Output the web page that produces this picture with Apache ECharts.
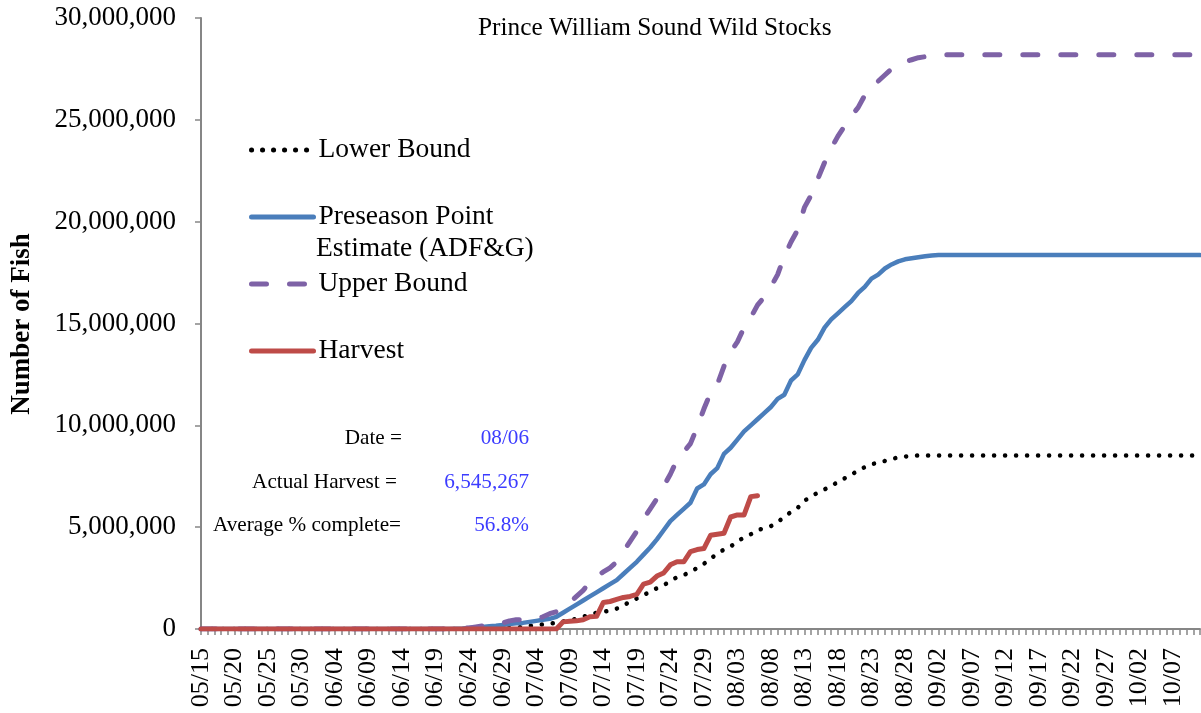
<!DOCTYPE html>
<html>
<head>
<meta charset="utf-8">
<title>Prince William Sound Wild Stocks</title>
<script src="https://cdn.jsdelivr.net/npm/echarts@6/dist/echarts.min.js"></script>
<style>
  html, body { margin: 0; padding: 0; background: #fff; }
  #main { width: 1201px; height: 713px; }
</style>
</head>
<body>
<div id="main"></div>
<script>
// daily x categories, 05/15 .. 10/11
const firstDay = [5, 15];
const dayCount = 150;
const dates = [];
for (let i = 0; i < dayCount; i++) {
    const d = new Date(2021, firstDay[0] - 1, firstDay[1] + i);
    dates.push(String(d.getMonth() + 1).padStart(2, '0') + '/' + String(d.getDate()).padStart(2, '0'));
}

const yTicks = [0, 5000000, 10000000, 15000000, 20000000, 25000000, 30000000];

const lowerBound = [
    0, 0, 0, 0, 0, 0, 0, 0, 0, 0,
    0, 0, 0, 0, 0, 0, 0, 0, 0, 0,
    0, 0, 0, 0, 0, 0, 0, 0, 0, 0,
    0, 0, 0, 0, 0, 0, 0, 0, 0, 0,
    0, 0, 0, 0, 20000, 30000, 50000, 70000, 100000, 150000,
    200000, 220000, 260000, 300000, 370000, 430000, 500000, 600000, 700000, 800000,
    850000, 900000, 1000000, 1150000, 1350000, 1500000, 1650000, 1850000, 2000000, 2150000,
    2350000, 2550000, 2650000, 2800000, 3000000, 3200000, 3450000, 3700000, 3900000, 4050000,
    4300000, 4500000, 4650000, 4850000, 4950000, 5050000, 5250000, 5500000, 5750000, 5950000,
    6300000, 6500000, 6700000, 6850000, 7050000, 7200000, 7400000, 7600000, 7750000, 7950000,
    8100000, 8150000, 8250000, 8350000, 8420000, 8470000, 8500000, 8520000, 8520000, 8520000,
    8520000, 8520000, 8520000, 8520000, 8520000, 8520000, 8520000, 8520000, 8520000, 8520000,
    8520000, 8520000, 8520000, 8520000, 8520000, 8520000, 8520000, 8520000, 8520000, 8520000,
    8520000, 8520000, 8520000, 8520000, 8520000, 8520000, 8520000, 8520000, 8520000, 8520000,
    8520000, 8520000, 8520000, 8520000, 8520000, 8520000, 8520000, 8520000, 8520000, 8520000
];

const preseason = [
    0, 0, 0, 0, 0, 0, 0, 0, 0, 0,
    0, 0, 0, 0, 0, 0, 0, 0, 0, 0,
    0, 0, 0, 0, 0, 0, 0, 0, 0, 0,
    0, 0, 0, 0, 0, 0, 0, 0, 10000, 20000,
    50000, 80000, 100000, 130000, 160000, 200000, 240000, 280000, 300000, 350000,
    400000, 450000, 500000, 600000, 800000, 1000000, 1200000, 1400000, 1600000, 1800000,
    2000000, 2200000, 2400000, 2700000, 3000000, 3300000, 3650000, 4000000, 4400000, 4850000,
    5300000, 5600000, 5900000, 6200000, 6900000, 7100000, 7600000, 7900000, 8600000, 8900000,
    9300000, 9700000, 10000000, 10300000, 10600000, 10900000, 11300000, 11500000, 12200000, 12500000,
    13200000, 13800000, 14200000, 14800000, 15200000, 15500000, 15800000, 16100000, 16500000, 16800000,
    17200000, 17400000, 17700000, 17900000, 18050000, 18150000, 18200000, 18250000, 18300000, 18340000,
    18360000, 18360000, 18360000, 18360000, 18360000, 18360000, 18360000, 18360000, 18360000, 18360000,
    18360000, 18360000, 18360000, 18360000, 18360000, 18360000, 18360000, 18360000, 18360000, 18360000,
    18360000, 18360000, 18360000, 18360000, 18360000, 18360000, 18360000, 18360000, 18360000, 18360000,
    18360000, 18360000, 18360000, 18360000, 18360000, 18360000, 18360000, 18360000, 18360000, 18360000
];

const upperBound = [
    0, 0, 0, 0, 0, 0, 0, 0, 0, 0,
    0, 0, 0, 0, 0, 0, 0, 0, 0, 0,
    0, 0, 0, 0, 0, 0, 0, 0, 0, 0,
    0, 0, 0, 0, 0, 0, 0, 0, 10000, 30000,
    50000, 100000, 150000, 200000, 250000, 300000, 400000, 450000, 450000, 450000,
    500000, 600000, 750000, 850000, 1000000, 1300000, 1600000, 1900000, 2300000, 2600000,
    2800000, 3000000, 3300000, 3800000, 4300000, 4800000, 5400000, 5900000, 6400000, 7000000,
    7600000, 8300000, 8700000, 9100000, 9900000, 10800000, 11600000, 12000000, 12900000, 13600000,
    14100000, 14800000, 15300000, 15900000, 16300000, 16800000, 17400000, 18300000, 19000000, 19600000,
    20700000, 21300000, 22100000, 22900000, 23600000, 24200000, 24700000, 25200000, 25600000, 26200000,
    26700000, 26900000, 27200000, 27500000, 27750000, 27850000, 27950000, 28050000, 28100000, 28150000,
    28180000, 28200000, 28200000, 28200000, 28200000, 28200000, 28200000, 28200000, 28200000, 28200000,
    28200000, 28200000, 28200000, 28200000, 28200000, 28200000, 28200000, 28200000, 28200000, 28200000,
    28200000, 28200000, 28200000, 28200000, 28200000, 28200000, 28200000, 28200000, 28200000, 28200000,
    28200000, 28200000, 28200000, 28200000, 28200000, 28200000, 28200000, 28200000, 28200000, 28200000
];

// harvest only runs to 08/06
const harvest = [
    0, 0, 0, 0, 0, 0, 0, 0, 0, 0,
    0, 0, 0, 0, 0, 0, 0, 0, 0, 0,
    0, 0, 0, 0, 0, 0, 0, 0, 0, 0,
    0, 0, 0, 0, 0, 0, 0, 0, 0, 0,
    0, 0, 0, 0, 0, 0, 0, 0, 0, 0,
    0, 0, 0, 0, 350000, 380000, 400000, 450000, 600000, 620000,
    1300000, 1350000, 1450000, 1550000, 1600000, 1700000, 2200000, 2300000, 2600000, 2750000,
    3150000, 3300000, 3300000, 3800000, 3900000, 3950000, 4600000, 4650000, 4700000, 5500000,
    5600000, 5600000, 6500000, 6545267
];

const statLabels = ['Date =', 'Actual Harvest =', 'Average % complete='];
const statValues = ['08/06', '6,545,267', '56.8%'];

const serif = "'Liberation Serif', 'Times New Roman', serif";
const axisGray = '#868686';

function fmtNum(v) {
    return String(v).replace(/\B(?=(\d{3})+(?!\d))/g, ',');
}

const chart = echarts.init(document.getElementById('main'));

// one legend block per item so each can sit where Excel put it
function legendAt(name, top, text) {
    return {
        data: [name],
        left: 249,
        top: top,
        padding: 0,
        itemWidth: 62,
        itemHeight: 14,
        itemGap: 4,
        selectedMode: false,
        formatter: text ? () => text : undefined,
        itemStyle: { opacity: 0 },  // hide the circle, keep the line
        textStyle: { fontFamily: serif, fontSize: 27.5, color: '#000' },
        lineStyle: { width: 5, cap: 'round' }
    };
}

const statGraphics = [];
const statY = [438, 482, 525];
const statRight = [402, 397, 401];
statLabels.forEach((t, i) => {
    statGraphics.push({
        type: 'text', x: statRight[i], y: statY[i],
        style: { text: t, fontFamily: serif, fontSize: 21.2, fill: '#000', textAlign: 'right', textVerticalAlign: 'middle' }
    });
    statGraphics.push({
        type: 'text', x: 529, y: statY[i],
        style: { text: statValues[i], fontFamily: serif, fontSize: 21.2, fill: '#3c3cff', textAlign: 'right', textVerticalAlign: 'middle' }
    });
});

const option = {
    animation: false,
    backgroundColor: '#fff',
    title: {
        text: 'Prince William Sound Wild Stocks',
        left: 478,
        top: 16,
        padding: 0,
        textStyle: { fontFamily: serif, fontSize: 25.3, fontWeight: 'normal', color: '#000' }
    },
    grid: { left: 201, right: 1, top: 18, bottom: 84, containLabel: false },
    legend: [
        legendAt('Lower Bound', 136),
        legendAt('Preseason Point Estimate (ADF&G)', 203, 'Preseason Point'),
        legendAt('Upper Bound', 270),
        legendAt('Harvest', 337)
    ],
    graphic: [
        {
            type: 'text', x: 316, y: 249,
            style: { text: 'Estimate (ADF&G)', fontFamily: serif, fontSize: 27.5, fill: '#000', textVerticalAlign: 'middle' }
        },
        {
            type: 'text', x: 22, y: 324, rotation: Math.PI / 2,
            style: { text: 'Number of Fish', fontFamily: serif, fontSize: 27, fontWeight: 'bold', fill: '#000', textAlign: 'center', textVerticalAlign: 'middle' }
        }
    ].concat(statGraphics),
    xAxis: {
        type: 'category',
        data: dates,
        boundaryGap: false,
        axisLine: { lineStyle: { color: axisGray, width: 2 } },
        axisTick: { interval: 0, length: 6, lineStyle: { color: axisGray, width: 1.5 } },
        axisLabel: {
            interval: 4,
            rotate: 90,
            margin: 19,
            fontFamily: serif,
            fontSize: 26,
            color: '#000'
        },
        splitLine: { show: false }
    },
    yAxis: {
        type: 'value',
        min: yTicks[0],
        max: yTicks[yTicks.length - 1],
        interval: yTicks[1] - yTicks[0],
        axisLine: { show: true, lineStyle: { color: axisGray, width: 2 } },
        axisTick: { show: true, length: 6, lineStyle: { color: axisGray, width: 1.5 } },
        axisLabel: {
            margin: 25,
            padding: [4, 0, 0, 0],
            fontFamily: serif,
            fontSize: 27,
            color: '#000',
            formatter: fmtNum
        },
        splitLine: { show: false }
    },
    series: [
        {
            name: 'Lower Bound',
            type: 'line',
            data: lowerBound,
            symbol: 'none',
            color: '#000',
            lineStyle: { color: '#000', width: 4.5, type: [0.1, 10.9], cap: 'round' }
        },
        {
            name: 'Preseason Point Estimate (ADF&G)',
            type: 'line',
            data: preseason,
            symbol: 'none',
            color: '#4a7ebb',
            lineStyle: { color: '#4a7ebb', width: 4.5, cap: 'round', join: 'round' }
        },
        {
            name: 'Upper Bound',
            type: 'line',
            data: upperBound,
            symbol: 'none',
            color: '#7e62a6',
            lineStyle: { color: '#7e62a6', width: 5, type: [15, 23], cap: 'round', join: 'round' }
        },
        {
            name: 'Harvest',
            type: 'line',
            data: harvest,
            symbol: 'none',
            color: '#be4b48',
            lineStyle: { color: '#be4b48', width: 5, cap: 'round', join: 'round' }
        }
    ]
};

chart.setOption(option);
</script>
</body>
</html>
